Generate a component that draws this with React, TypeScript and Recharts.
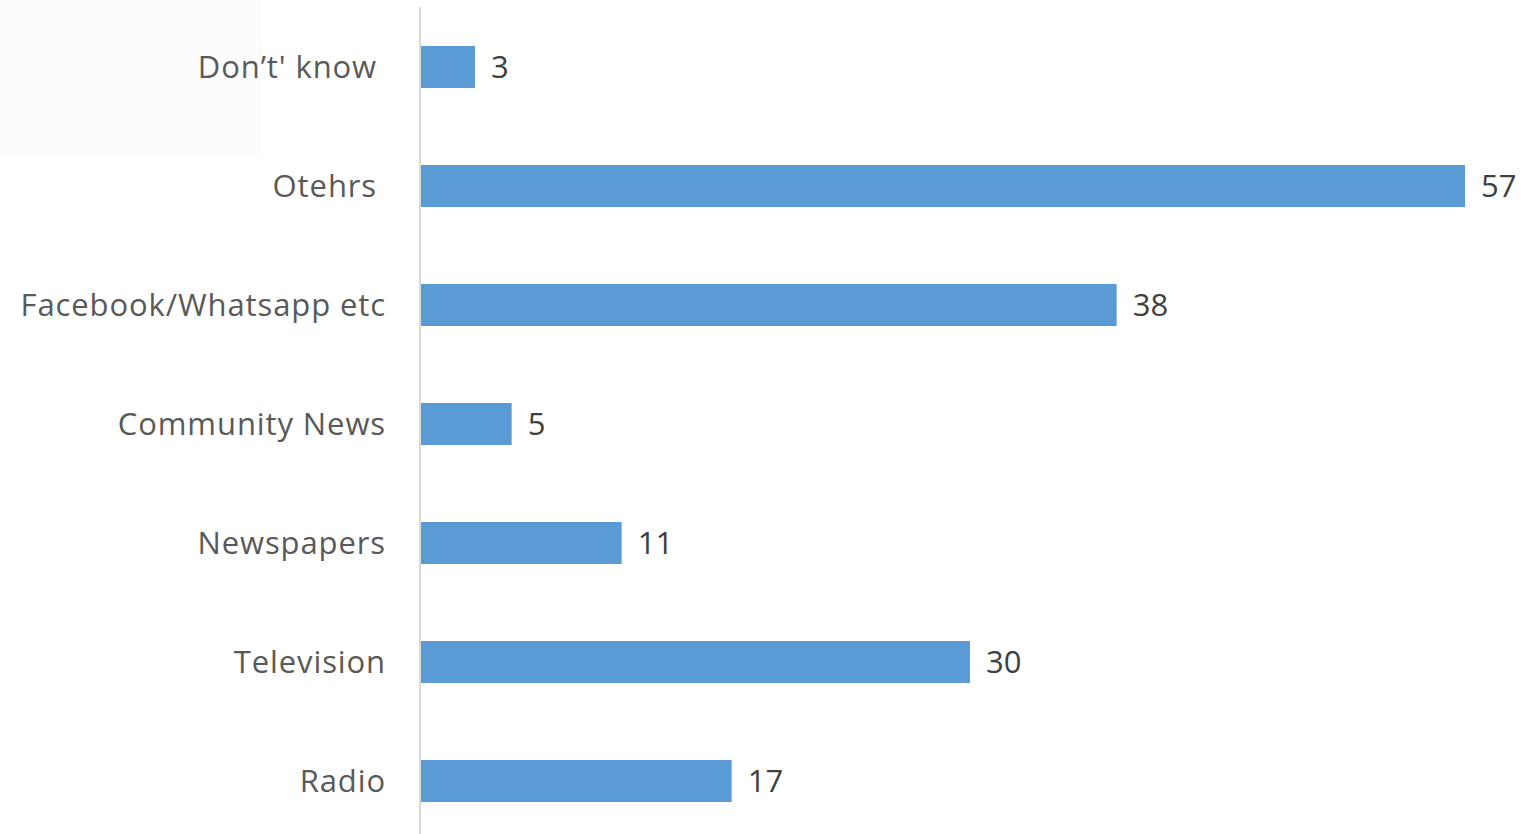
import React from "react";
import { BarChart, Bar, XAxis, YAxis, LabelList } from "recharts";

const categories = ["Don’t' know\u00A0", "Otehrs\u00A0", "Facebook/Whatsapp etc", "Community News", "Newspapers", "Television", "Radio"];
const values = [3, 57, 38, 5, 11, 30, 17];

const data = categories.map((name, i) => ({ name, value: values[i] }));

const FONT = "'Open Sans', sans-serif";

export default function App() {
  return (
    <div style={{ position: "absolute", left: 0, top: 0, width: 1530, height: 841, background: "#ffffff" }}>
      <div style={{ position: "absolute", left: 0, top: 0, width: 262, height: 155, background: "#fcfcfc" }} />
      <div style={{ position: "absolute", left: 0, top: 0 }}>
        <BarChart
          width={1530}
          height={840}
          data={data}
          layout="vertical"
          margin={{ top: 7, right: 10, bottom: 0, left: 0 }}
          barSize={42}
        >
          <XAxis type="number" domain={[0, 60]} hide />
          <YAxis
            type="category"
            dataKey="name"
            width={420}
            axisLine={{ stroke: "#d9d9d9", strokeWidth: 2 }}
            tickLine={false}
            tickMargin={28}
            tick={{ fill: "#595959", fontSize: 31, fontFamily: FONT, letterSpacing: 0.9 }}
            interval={0}
          />
          <Bar dataKey="value" fill="#5b9bd5" isAnimationActive={false}>
            <LabelList
              dataKey="value"
              position="right"
              offset={16}
              style={{ fill: "#404040", fontSize: 31, fontFamily: FONT }}
            />
          </Bar>
        </BarChart>
      </div>
    </div>
  );
}
